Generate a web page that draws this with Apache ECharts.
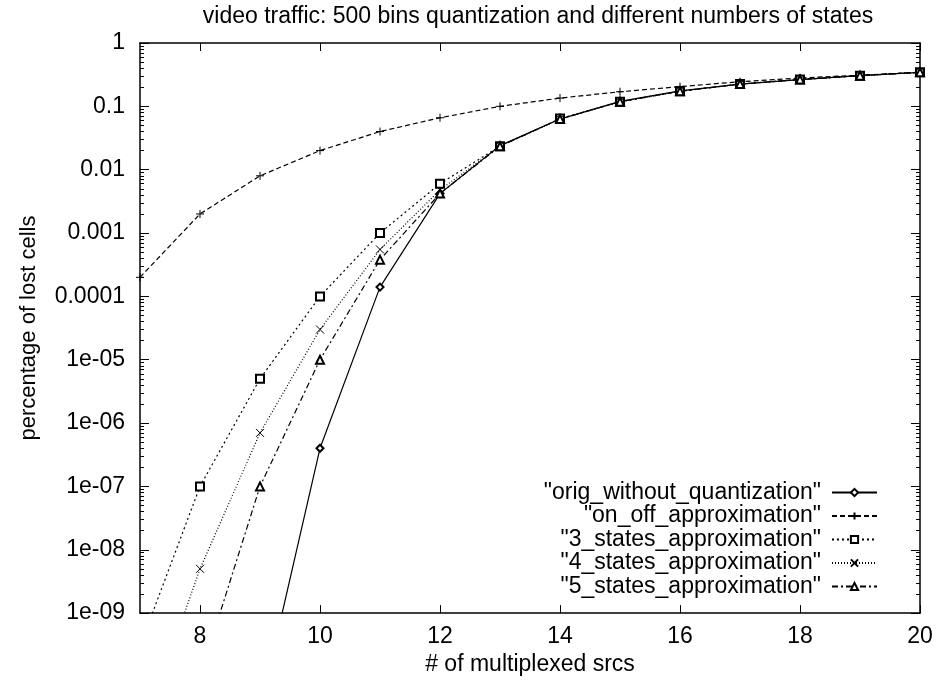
<!DOCTYPE html>
<html>
<head>
    <meta charset="UTF-8">
    <title>video traffic</title>
    <script src="https://cdn.jsdelivr.net/npm/echarts@6/dist/echarts.min.js"></script>
    <style>
        html, body { margin: 0; padding: 0; background: #fff; }
        #chart { width: 938px; height: 681px; }
    </style>
</head>
<body>
<div id="chart"></div>
<script>
    // x = number of multiplexed sources
    var srcs = [7, 8, 9, 10, 11, 12, 13, 14, 15, 16, 17, 18, 19, 20];

    // loss values (null = no point)
    var origWithoutQuant = [null, null, 3e-11, 4e-7, 1.4e-4, 0.0042, 0.024, 0.063, 0.12, 0.175, 0.225, 0.265, 0.305, 0.345];
    var onOffApprox     = [2e-4, 0.002, 0.008, 0.02, 0.04, 0.066, 0.1, 0.135, 0.17, 0.205, 0.245, 0.28, 0.31, 0.345];
    var states3Approx   = [3e-10, 1e-7, 5e-6, 1e-4, 0.001, 0.006, 0.0235, 0.064, 0.118, 0.173, 0.225, 0.265, 0.305, 0.345];
    var states4Approx   = [1e-11, 5e-9, 7e-7, 3e-5, 5.5e-4, 0.0048, 0.0235, 0.063, 0.118, 0.173, 0.225, 0.265, 0.305, 0.345];
    var states5Approx   = [null, 1e-10, 1e-7, 1e-5, 3.8e-4, 0.0042, 0.0235, 0.063, 0.118, 0.173, 0.225, 0.265, 0.305, 0.345];

    var seriesNames = ['"orig_without_quantization"', '"on_off_approximation"', '"3_states_approximation"',
        '"4_states_approximation"', '"5_states_approximation"'];

    var xTicks = [8, 10, 12, 14, 16, 18, 20];
    var yTicks = [1e-9, 1e-8, 1e-7, 1e-6, 1e-5, 1e-4, 0.001, 0.01, 0.1, 1];
    var yTickLabels = ['1e-09', '1e-08', '1e-07', '1e-06', '1e-05', '0.0001', '0.001', '0.01', '0.1', '1'];

    // minor log ticks 2..9 in every decade
    var yMinor = [];
    for (var k = -9; k < 0; k++) {
        for (var m = 2; m <= 9; m++) yMinor.push(m * Math.pow(10, k));
    }

    function pairs(ys) {
        var out = [];
        for (var i = 0; i < srcs.length; i++) {
            if (ys[i] != null) out.push([srcs[i], ys[i]]);
        }
        return out;
    }

    var FONT = '"Liberation Sans", Arial, Helvetica, sans-serif';
    var plusPath = 'path://M5,0L5,10M0,5L10,5';
    var crossPath = 'path://M0,0L10,10M10,0L0,10';

    function yAxisDef(pos, ticks, len, showLine, labels) {
        return {
            type: 'log', logBase: 10, min: 1e-9, max: 1, position: pos,
            axisLine: { show: showLine, lineStyle: { color: '#000', width: 1.5 } },
            axisTick: { show: true, inside: true, length: len, customValues: ticks, lineStyle: { color: '#000', width: 1 } },
            axisLabel: labels ? {
                show: true, customValues: yTicks, margin: 15, color: '#000', fontSize: 23, fontFamily: FONT,
                formatter: function (v) { return yTickLabels[Math.round(Math.log10(v)) + 9]; }
            } : { show: false },
            minorTick: { show: false },
            splitLine: { show: false }
        };
    }

    function mkSeries(name, ys, symbol, size, dash) {
        return {
            name: name, type: 'line', data: pairs(ys),
            symbol: symbol, symbolSize: size,
            clip: true,
            lineStyle: { color: '#000', width: 1.2, type: dash },
            itemStyle: { color: '#000', borderColor: '#000', borderWidth: 1 },
            emphasis: { disabled: true },
            animation: false
        };
    }

    var chart = echarts.init(document.getElementById('chart'));
    chart.setOption({
        backgroundColor: '#fff',
        animation: false,
        title: {
            text: 'video traffic: 500 bins quantization and different numbers of states',
            left: 533, top: 0, textAlign: 'center',
            textStyle: { color: '#000', fontSize: 23, fontWeight: 'normal', fontFamily: FONT }
        },
        grid: { left: 140, right: 18, top: 43, bottom: 65 },
        legend: {
            orient: 'vertical', align: 'right',
            right: 55, top: 476,
            itemWidth: 45, itemHeight: 9, itemGap: 0.5,
            textStyle: { color: '#000', fontSize: 23, fontFamily: FONT, lineHeight: 23, padding: [0, 6, 0, 0] },
            data: seriesNames
        },
        xAxis: [{
            type: 'value', min: 7, max: 20, position: 'bottom',
            name: '# of multiplexed srcs', nameLocation: 'middle', nameGap: 37,
            nameTextStyle: { color: '#000', fontSize: 23, fontFamily: FONT },
            axisLine: { show: true, lineStyle: { color: '#000', width: 1.5 } },
            axisTick: { show: true, inside: true, length: 8, customValues: xTicks, lineStyle: { color: '#000' } },
            axisLabel: { show: true, customValues: xTicks, margin: 12, color: '#000', fontSize: 23, fontFamily: FONT },
            splitLine: { show: false }
        }, {
            type: 'value', min: 7, max: 20, position: 'top',
            axisLine: { show: true, lineStyle: { color: '#000', width: 1.5 } },
            axisTick: { show: true, inside: true, length: 8, customValues: xTicks, lineStyle: { color: '#000' } },
            axisLabel: { show: false },
            splitLine: { show: false }
        }],
        yAxis: [
            Object.assign(yAxisDef('left', yTicks, 9, true, true), {
                name: 'percentage of lost cells', nameLocation: 'middle', nameGap: 100, nameRotate: 90,
                nameTextStyle: { color: '#000', fontSize: 22, fontFamily: FONT }
            }),
            yAxisDef('left', yMinor, 4, false, false),
            yAxisDef('right', yTicks, 9, true, false),
            yAxisDef('right', yMinor, 4, false, false)
        ],
        series: [
            mkSeries(seriesNames[0], origWithoutQuant, 'emptyDiamond', 7, 'solid'),
            mkSeries(seriesNames[1], onOffApprox, plusPath, 8, [5, 3]),
            mkSeries(seriesNames[2], states3Approx, 'emptyRect', 8, [2, 3]),
            mkSeries(seriesNames[3], states4Approx, crossPath, 8, [1, 2]),
            mkSeries(seriesNames[4], states5Approx, 'emptyTriangle', 8, [6, 3, 2, 3])
        ]
    });
</script>
</body>
</html>
